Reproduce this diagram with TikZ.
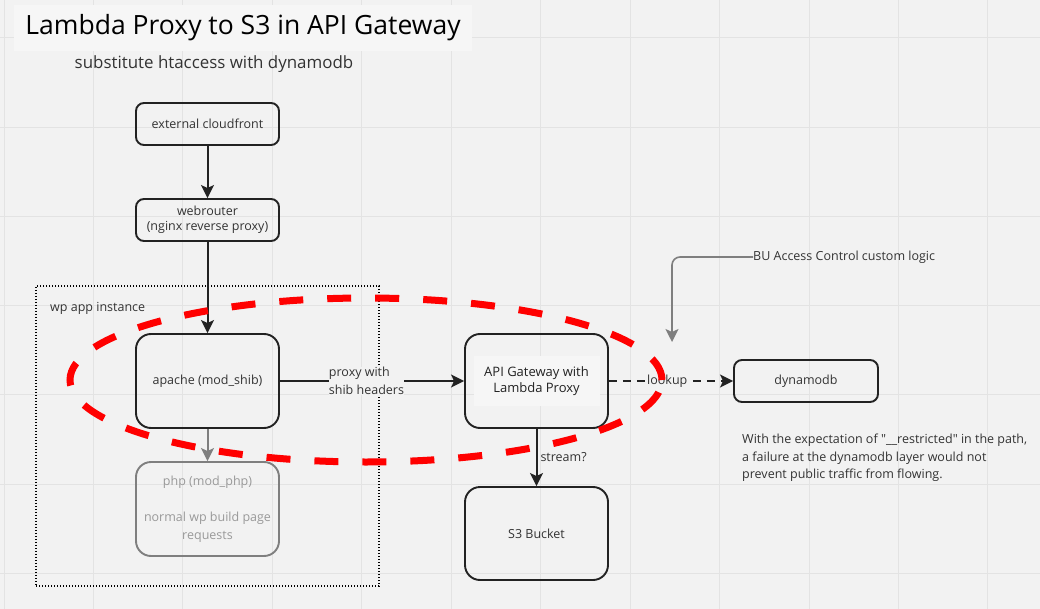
\documentclass[tikz,border=0pt]{standalone}
\usepackage{fontspec}
\setmainfont{Open Sans}
\usetikzlibrary{arrows.meta}
\definecolor{bg}{HTML}{F2F2F2}
\definecolor{gridc}{HTML}{E3E3E3}
\definecolor{titlebg}{HTML}{F6F6F6}
\definecolor{linec}{HTML}{222222}
\definecolor{txt}{HTML}{333333}
\definecolor{graytxt}{HTML}{999999}
\definecolor{grayline}{HTML}{7F7F7F}
\definecolor{redc}{HTML}{FF0000}
\tikzset{
  box/.style={draw=linec, line width=1.9pt, rounded corners=8pt, minimum width=143pt, minimum height=42pt, inner sep=0pt, align=center, text=txt, font=\fontsize{12.5}{15}\selectfont},
  bigbox/.style={box, rounded corners=15pt, minimum height=94pt},
  arr/.style={draw=linec, line width=2pt, -{Stealth[length=13pt,width=13pt,inset=3pt]}},
  grayarr/.style={draw=grayline, line width=2pt, -{Stealth[length=13pt,width=13pt,inset=3pt]}},
  lbl/.style={text=txt, font=\fontsize{12.5}{18}\selectfont, align=left, inner sep=0pt},
}
\begin{document}
\begin{tikzpicture}[x=1pt,y=-1pt]
\fill[bg] (0,0) rectangle (1040,609);
\useasboundingbox (0,0) rectangle (1040,609);
\foreach \i in {0,...,11} {\draw[gridc, line width=1pt] ({4+89.45*\i},0) -- ({4+89.45*\i},609);}
\foreach \i in {0,...,6} {\draw[gridc, line width=1pt] (0,{38+89.2*\i}) -- (1040,{38+89.2*\i});}

% title
\node[fill=titlebg, minimum width=458pt, minimum height=46pt, inner sep=0pt, text=black, font=\fontsize{26.5}{30}\selectfont] (title) at (243,28) {Lambda Proxy to S3 in API Gateway};
\node[text=txt, font=\fontsize{16.9}{20}\selectfont, inner sep=0pt] (subtitle) at (214,64) {substitute htaccess with dynamodb};

% container
\node[draw=black, line width=1.3pt, dash pattern=on 1.3pt off 1.7pt, minimum width=343pt, minimum height=300pt, inner sep=0pt] (wpbox) at (207.5,436) {};
\node[lbl, anchor=west] (wplbl) at (50,308) {wp app instance};

% boxes
\node[box] (cf) at (207.5,124) {external cloudfront};
\node[box] (wr) at (207.5,220) {webrouter\\(nginx reverse proxy)};
\node[bigbox] (apache) at (207.5,381) {apache (mod\_shib)};
\node[bigbox, draw=grayline, text=graytxt, font=\fontsize{12.5}{18}\selectfont] (php) at (207.5,509) {php (mod\_php)\\[18pt]normal wp build page\\requests};
\node[bigbox] (api) at (536.5,381) {};
\node[fill=titlebg, minimum width=126pt, minimum height=50pt, inner sep=0pt, align=center, text=linec, font=\fontsize{13}{16.5}\selectfont] (apitext) at (api.center) {API Gateway with\\Lambda Proxy};
\node[bigbox, minimum height=93pt] (s3) at (536.5,533.5) {S3 Bucket};
\node[box, minimum width=144pt] (dyn) at (806,381) {dynamodb};

% connectors
\draw[arr] (cf) -- (wr);
\draw[arr] (wr) -- (apache);
\draw[grayarr] (apache) -- (php);
\draw[arr] (apache.east) -- node[pos=0.47, fill=bg, inner xsep=3pt, inner ysep=1pt, lbl] (proxylbl) {proxy with\\shib headers} (api.west);
\draw[arr] (api) -- node[lbl, right=3pt, pos=0.5] (streamlbl) {stream?} (s3);
\draw[line width=2pt, draw=linec, dash pattern=on 8pt off 6pt, -{Stealth[length=13pt,width=13pt,inset=3pt]}] (api.east) -- node[pos=0.47, fill=bg, inner xsep=5pt, inner ysep=2pt, lbl] (lookuplbl) {lookup} (dyn.west);

% BU note
\node[lbl, anchor=west] (bu) at (753,257) {BU Access Control custom logic};
\coordinate (buend) at (672,342);
\draw[grayarr, line width=1.6pt, rounded corners=8pt] (bu.west) -| (buend);

\node[lbl, anchor=north west, font=\fontsize{12.5}{17.5}\selectfont] (note) at (742,434) {With the expectation of \textquotedbl\_\_restricted\textquotedbl{} in the path,\\a failure at the dynamodb layer would not\\prevent public traffic from flowing.};

% red highlight
\draw[redc, line width=7pt, dash pattern=on 24pt off 24pt] (366,380) ellipse [x radius=296pt, y radius=82pt];
\end{tikzpicture}
\end{document}
